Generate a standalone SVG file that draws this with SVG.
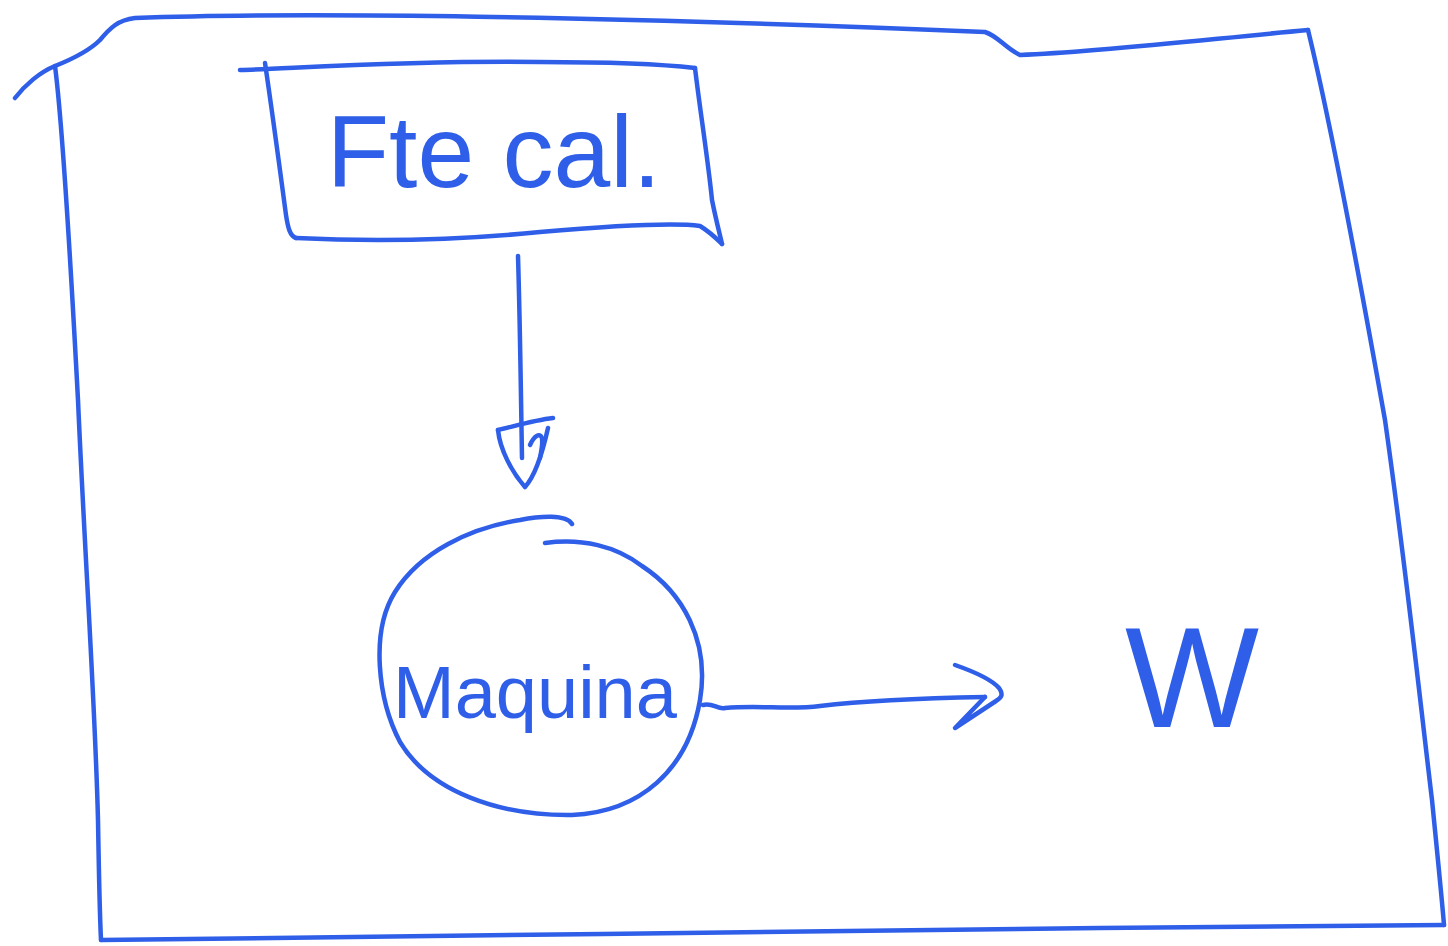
<svg xmlns="http://www.w3.org/2000/svg" width="1448" height="946" viewBox="0 0 1448 946">
  <style>
    .ink { fill: none; stroke: #2f5fe8; stroke-width: 4.5; stroke-linecap: round; stroke-linejoin: round; }
    .label { fill: #2f5fe8; font-family: "Liberation Sans", Arial, sans-serif; }
  </style>
  <rect width="1448" height="946" fill="#ffffff"/>

  <!-- outer frame -->
  <g id="frame">
    <path class="ink" d="M 15,98 C 25,85 40,72 55,66 C 75,58 90,50 100,40 C 110,28 118,20 135,18 C 300,12 600,16 985,32 C 998,36 1005,48 1020,55 C 1100,52 1200,40 1308,30"/>
    <path class="ink" d="M 55,66 C 62,120 70,250 78,400 C 85,560 95,700 98,820 C 99,880 100,920 101,940"/>
    <path class="ink" d="M 1308,30 C 1330,120 1360,280 1385,420 C 1405,560 1420,700 1432,800 C 1438,860 1442,900 1444,925"/>
    <path class="ink" d="M 101,940 C 400,938 800,930 1100,928 C 1250,926 1380,926 1444,925"/>
  </g>

  <!-- source node -->
  <g id="fte-cal">
    <path class="ink" d="M 240,70 C 300,68 420,60 540,62 C 600,62 660,64 695,68"/>
    <path class="ink" d="M 265,63 C 272,110 280,170 286,215 C 288,228 290,236 296,238"/>
    <path class="ink" d="M 296,238 C 380,242 460,240 540,232 C 610,226 670,222 700,226 C 710,232 716,238 722,244"/>
    <path class="ink" d="M 695,68 C 700,110 708,160 712,200 C 716,220 720,235 722,244"/>
    <text class="label" x="494" y="187" font-size="102" text-anchor="middle">Fte cal.</text>
  </g>

  <!-- machine node -->
  <g id="maquina">
    <path class="ink" d="M 572,524 C 566,514 540,516 520,520 C 470,528 420,552 395,592 C 370,632 378,700 400,742 C 430,792 500,816 572,815 C 640,812 688,770 700,700 C 710,640 682,592 642,566 C 616,546 582,538 545,543"/>
    <text class="label" x="535" y="718" font-size="74" text-anchor="middle">Maquina</text>
  </g>

  <!-- output node -->
  <g id="w">
    <text class="label" x="1192" y="727" font-size="142" text-anchor="middle">W</text>
  </g>

  <!-- connectors -->
  <g id="connectors">
    <path class="ink" d="M 518,256 C 520,320 521,400 522,458"/>
    <path class="ink" d="M 498,430 C 515,426 535,420 553,418"/>
    <path class="ink" d="M 498,430 C 500,450 512,472 525,487 C 535,476 542,455 548,428"/>
    <path class="ink" d="M 530,445 C 534,436 540,432 542,438 C 543,445 541,452 540,458"/>
    <path class="ink" d="M 703,705 C 712,702 718,710 725,708 C 760,705 790,710 820,706 C 870,700 930,698 985,697"/>
    <path class="ink" d="M 955,665 C 975,672 992,680 999,688 C 1004,695 1001,698 996,701 L 955,728 L 985,697"/>
  </g>
</svg>
